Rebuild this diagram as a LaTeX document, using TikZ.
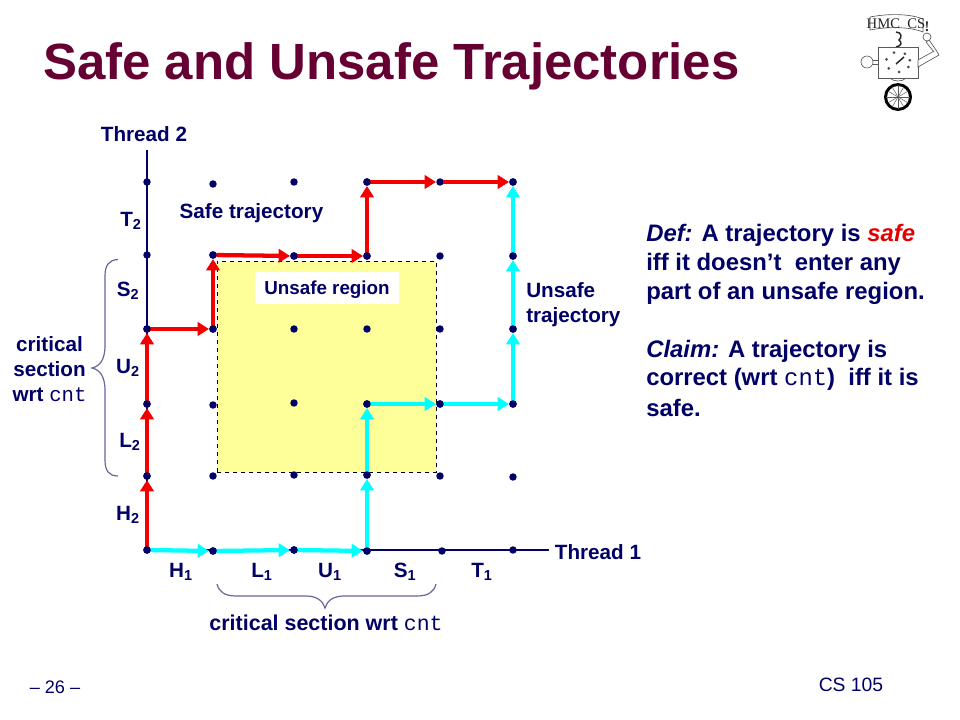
\documentclass[tikz,border=0pt]{standalone}
\usepackage{fontspec}
\setmainfont{Liberation Sans}
\setmonofont{Liberation Mono}
\newfontfamily\logofont{Liberation Serif}
\usetikzlibrary{arrows.meta,calc}
\definecolor{navy}{HTML}{000066}
\definecolor{titlec}{HTML}{660033}
\definecolor{unsafe}{HTML}{FFFF99}
\definecolor{redtraj}{HTML}{F20000}
\definecolor{cyantraj}{HTML}{00FFFF}
\definecolor{bracec}{HTML}{666699}
\newcommand{\cntword}{{\mdseries\ttfamily cnt}}
\tikzset{
  gdot/.style={circle,fill=navy,inner sep=0pt,minimum size=5.6pt},
  lab/.style={text=navy,font=\bfseries\fontsize{15.5}{18.75}\selectfont,inner sep=0pt,align=center},
  deftext/.style={text=navy,font=\bfseries\fontsize{17.9}{20}\selectfont,inner sep=0pt,anchor=west},
  redarrow/.style={draw=redtraj,line width=3.2pt,-{Triangle[length=8.5pt,width=10pt]},shorten >=3pt,shorten <=2.5pt},
  cyanarrow/.style={draw=cyantraj,line width=3.2pt,-{Triangle[length=8.5pt,width=10pt]},shorten >=3pt,shorten <=2.5pt},
  bracestyle/.style={draw=bracec,line width=0.9pt},
  axisline/.style={draw=navy,line width=0.8pt},
  logoline/.style={line width=0.5pt,draw=black!65},
}
\begin{document}
\begin{tikzpicture}[x=0.75pt,y=-0.75pt]
\useasboundingbox (0,0) rectangle (960,720);
\fill[white] (0,0) rectangle (960,720);
% title
\node[anchor=west,inner sep=0pt,text=titlec,font=\bfseries\fontsize{38.2}{42}\selectfont] (title) at (43,66) {Safe and Unsafe Trajectories};
% unsafe region
\node[draw=black,dashed,fill=unsafe,line width=0.7pt,inner sep=0pt,minimum width=164.25pt,minimum height=158.25pt,anchor=north west] (region) at (217,261) {};
\node[fill=white,minimum width=108pt,minimum height=23.5pt,inner sep=0pt] (urbox) at (327,288) {};
\node[lab,font=\bfseries\fontsize{14.1}{16}\selectfont] (ur) at (327,290) {Unsafe region};
% grid
\foreach \n/\x/\y in {
 a1/147/182,a2/213/184,a3/294/182,a4/367/182,a5/440/182,a6/513/182,
 b1/147/255,b2/213/255,b3/294/256,b4/367/256,b5/440/256,b6/513/256,
 c1/147/329,c2/213/329,c3/294/329,c4/367/329,c5/440/329,c6/513/329,
 d1/147/404,d2/213/405,d3/294/403,d4/367/404,d5/440/404,d6/513/404,
 e1/147/476,e2/213/476,e3/294/475,e4/367/475,e5/440/476,e6/513/477,
 f1/147/550,f2/213/551,f3/294/550,f4/367/551,f5/442/551,f6/513/550}
 {\node[gdot] (\n) at (\x,\y) {};}
% axes
\coordinate (ytop) at (147,150);
\coordinate (xend) at (549,550);
\draw[axisline] (ytop) -- (f1.center);
\draw[axisline] (f1.center) -- (xend);
% red trajectory
\draw[redarrow] (f1.center) -- (e1.center);
\draw[redarrow] (e1.center) -- (d1.center);
\draw[redarrow] (d1.center) -- (c1.center);
\draw[redarrow] (c1.center) -- (c2.center);
\draw[redarrow] (c2.center) -- (b2.center);
\draw[redarrow] (b2.center) -- (b3.center);
\draw[redarrow] (b3.center) -- (b4.center);
\draw[redarrow] (b4.center) -- (a4.center);
\draw[redarrow] (a4.center) -- (a5.center);
\draw[redarrow] (a5.center) -- (a6.center);
% cyan trajectory
\draw[cyanarrow] (f1.center) -- (f2.center);
\draw[cyanarrow] (f2.center) -- (f3.center);
\draw[cyanarrow] (f3.center) -- (f4.center);
\draw[cyanarrow] (f4.center) -- (e4.center);
\draw[cyanarrow] (e4.center) -- (d4.center);
\draw[cyanarrow] (d4.center) -- (d5.center);
\draw[cyanarrow] (d5.center) -- (d6.center);
\draw[cyanarrow] (d6.center) -- (c6.center);
\draw[cyanarrow] (c6.center) -- (b6.center);
\draw[cyanarrow] (b6.center) -- (a6.center);
% redraw dots over the lines
\foreach \n in {a4,a6,b2,b3,b4,b6,c1,c2,c6,d1,d4,d5,d6,e1,e4,f1,f2,f3,f4}
 {\fill[navy] (\n) circle (2.8pt);}
% axis labels
\node[lab] (th2) at (144,134) {Thread 2};
\node[lab] (th1) at (598,552) {Thread 1};
\node[lab] (st) at (251.5,213) {Safe trajectory};
\node[lab,align=left,anchor=west] (ut) at (526,304.5) {Unsafe\\trajectory};
% y labels
\node[lab] (T2) at (131,221) {T\textsubscript{2}};
\node[lab] (S2) at (128,291) {S\textsubscript{2}};
\node[lab] (U2) at (128,368) {U\textsubscript{2}};
\node[lab] (L2) at (130,442) {L\textsubscript{2}};
\node[lab] (H2) at (128,515) {H\textsubscript{2}};
% x labels
\node[lab] (H1) at (181,572) {H\textsubscript{1}};
\node[lab] (L1) at (262,572) {L\textsubscript{1}};
\node[lab] (U1) at (330,572) {U\textsubscript{1}};
\node[lab] (S1) at (405,572) {S\textsubscript{1}};
\node[lab] (T1) at (482,572) {T\textsubscript{1}};
% braces
\coordinate (bl1) at (118,259.5);
\coordinate (bl2) at (118,476);
\draw[bracestyle] (bl1) .. controls (109,260) and (105,265) .. (105,276) -- (105,345) .. controls (105,360) and (100,366) .. (92,368) .. controls (100,370) and (105,376) .. (105,391) -- (105,460) .. controls (105,471) and (109,476) .. (bl2);
\coordinate (bb1) at (217,584);
\coordinate (bb2) at (436,584);
\draw[bracestyle] (bb1) .. controls (219,592) and (225,596) .. (236,596) -- (306,596) .. controls (317,596) and (323,601) .. (325,608) .. controls (327,601) and (333,596) .. (344,596) -- (417,596) .. controls (428,596) and (434,592) .. (bb2);
\node[lab] (cs1) at (49.5,369.5) {critical\\section\\wrt \cntword};
\node[lab,font=\bfseries\fontsize{16.1}{18.75}\selectfont] (cs2) at (326,622.5) {critical section wrt \cntword};
% right text
\node[deftext] (d1t) at (646,235) {\textit{Def:} A trajectory is \textcolor{red!90!black}{\textit{safe}}};
\node[deftext] (d2t) at (646,264) {iff it doesn’t\ \ enter any};
\node[deftext] (d3t) at (646,293) {part of an unsafe region.};
\node[deftext] (d4t) at (646,351) {\textit{Claim:} A trajectory is};
\node[deftext] (d5t) at (646,379) {correct (wrt \cntword)\ \ iff it is};
\node[deftext] (d6t) at (646,408) {safe.};
% footer
\node[inner sep=0pt,text=navy,font=\fontsize{13.6}{16}\selectfont] (pg) at (55,687) {– 26 –};
\node[inner sep=0pt,text=navy,font=\fontsize{14.5}{17}\selectfont] (cs) at (851,685) {CS 105};
% logo
\begin{scope}[logoline]
 \draw[fill=white] (870,17) -- (870,30) .. controls (885,27) and (908,26) .. (923,32) -- (923,19) .. controls (908,13) and (885,14) .. (870,17);
 \node[inner sep=0pt,font=\logofont\fontsize{11}{12}\selectfont,text=black!85] (logotext) at (896,23.5) {HMC\ \ CS};
 \node[inner sep=0pt,font=\logofont\bfseries\fontsize{11}{12}\selectfont,text=black!85] (logoex) at (927,27) {!};
 \draw[line width=1.1pt,black!85] (896,32) .. controls (902,32) and (902,38) .. (899,40) .. controls (902,42) and (902,46) .. (896,47);
 \draw[fill=white] (878,47) rectangle (918,78);
 \foreach \a in {30,85,140,195,250,305,350}
   \fill[black!70] ($(898,62)+(\a:12 and 10)$) circle (1.5);
 \draw[line width=1.1pt,black!85] (896,64) -- (904,57);
 \draw[fill=white] (867,62) circle (6);
 \draw (873,60) -- (878,60) (873,64) -- (878,64);
 \draw[fill=white] (918,60) -- (936,50) -- (939,55) -- (918,67) -- cycle;
 \draw[fill=white] (936,50) -- (929,40) -- (926,42) -- (934,52);
 \draw[fill=white] (927,37) circle (4);
 \draw[black,line width=2.2pt] (898,97) circle (12.5);
 \foreach \a in {0,30,...,150} \draw[line width=0.35pt] ($(898,97)+(\a:12)$) -- ($(898,97)+(\a+180:12)$);
 \draw (890,78) .. controls (893,82) and (903,82) .. (906,78);
\end{scope}
\end{tikzpicture}
\end{document}
